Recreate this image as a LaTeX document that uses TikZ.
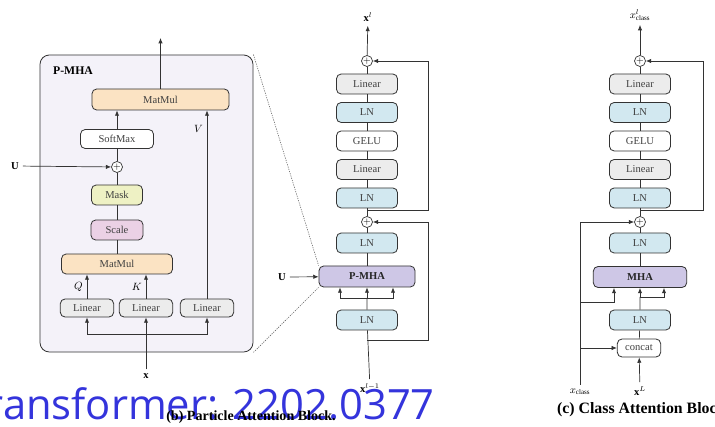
\documentclass[tikz,border=0pt]{standalone}
\usepackage{fontspec}
\setmainfont{Liberation Serif}
\newfontfamily\bannerfont{Open Sans}
\usepackage{amsmath}
\usepackage{xcolor}
\usetikzlibrary{arrows.meta, positioning, calc}

\definecolor{panelbg}{HTML}{F4F2F9}
\definecolor{matmulc}{HTML}{FBE3C3}
\definecolor{maskc}{HTML}{EEF1C4}
\definecolor{scalec}{HTML}{EBD1E5}
\definecolor{linearc}{HTML}{ECECEC}
\definecolor{lnc}{HTML}{D2E8F0}
\definecolor{attnc}{HTML}{CEC7E6}
\definecolor{edgec}{HTML}{333333}
\definecolor{bannerc}{HTML}{3434DC}

\begin{document}
\begin{tikzpicture}[
        x=0.03cm, y=-0.03cm,
        blk/.style={draw=edgec, line width=0.7pt, rounded corners=4pt, minimum height=0.6cm, minimum width=1.83cm, inner sep=1pt, font=\fontsize{9}{10}\selectfont, text=black!75},
        lin/.style={blk, fill=linearc},
        ln/.style={blk, fill=lnc},
        act/.style={blk, fill=white},
        attn/.style={blk, fill=attnc, minimum width=2.88cm, minimum height=0.63cm, font=\fontsize{9}{10}\selectfont\bfseries, text=black!85},
        add/.style={draw=edgec, circle, line width=0.6pt, inner sep=0pt, minimum size=0.33cm, fill=white, font=\footnotesize},
        arrow/.style={-{Latex[length=1.6mm, width=1.3mm]}, line width=0.6pt, draw=edgec},
        wire/.style={line width=0.6pt, draw=edgec},
        lbl/.style={font=\fontsize{9}{10}\selectfont},
        caption/.style={font=\fontsize{12}{14}\selectfont\bfseries}
    ]
        \useasboundingbox (0,0) rectangle (715,427);
        \clip (0,0) rectangle (715,427);
        \fill[white] (0,0) rectangle (715,427);

        % P-MHA detail
        \node[draw=edgec, line width=0.7pt, rounded corners=8pt, fill=panelbg, minimum width=6.39cm, minimum height=8.91cm] (panel) at (146.5,203.5) {};
        \node[font=\fontsize{10}{12}\selectfont\bfseries, anchor=west] (pmhatitle) at (49,71) {P-MHA};

        \node[blk, fill=matmulc, minimum width=4.11cm, minimum height=0.63cm] (mm2) at (160.5,99.5) {MatMul};
        \node[act, minimum width=2.19cm, minimum height=0.57cm] (softmax) at (117,139) {SoftMax};
        \node[add] (plusa) at (117,167) {$+$};
        \node[blk, fill=maskc, minimum width=1.53cm] (mask) at (117,195) {Mask};
        \node[blk, fill=scalec, minimum width=1.56cm] (scale) at (117,230) {Scale};
        \node[blk, fill=matmulc, minimum width=3.33cm] (mm1) at (117,264) {MatMul};

        \node[lin, minimum width=1.6cm, minimum height=0.54cm] (linq) at (87,308) {Linear};
        \node[lin, minimum width=1.6cm, minimum height=0.54cm] (link) at (146,308) {Linear};
        \node[lin, minimum width=1.6cm, minimum height=0.54cm] (linv) at (207,308) {Linear};

        \node[lbl] (ua) at (15,166) {$\mathbf{U}$};
        \node[lbl] (xa) at (146,376) {$\mathbf{x}$};
        \coordinate (outa) at (160.5,38);
        \coordinate (huba) at (146,334);

        \draw[wire] (mm1) -- (scale) -- (mask) -- (plusa) -- (softmax);
        \draw[arrow] (softmax.north) -- (softmax.north |- mm2.south);
        \draw[arrow] (ua) -- (plusa);
        \draw[arrow] (mm2) -- (outa);
        \draw[arrow] (linq) -- (linq |- mm1.south) node[midway, left, lbl] {$Q$};
        \draw[arrow] (link) -- (link |- mm1.south) node[midway, left, lbl] {$K$};
        \draw[arrow] (linv) -- (linv |- mm2.south) node[pos=0.9, left, lbl] {$V$};
        \draw[arrow] (xa) -- (link);
        \draw[arrow] (huba) -| (linq);
        \draw[arrow] (huba) -| (linv);

        % Particle attention block
        \node[add] (plusb2) at (367,61) {$+$};
        \node[lin] (linb2) at (367,84) {Linear};
        \node[ln, below=0.23cm of linb2] (lnb3) {LN};
        \node[act, below=0.23cm of lnb3] (gelub) {GELU};
        \node[lin, below=0.23cm of gelub] (linb1) {Linear};
        \node[ln, below=0.23cm of linb1] (lnb2) {LN};
        \node[add] (plusb1) at (367,222) {$+$};
        \node[ln] (lnb1) at (367,243) {LN};
        \node[attn] (pmha) at (367,276.5) {P-MHA};
        \node[ln] (lnb0) at (367,320) {LN};

        \node[lbl] (xbout) at (368,17) {$\mathbf{x}^{l}$};
        \node[lbl] (xb) at (370,388) {$\mathbf{x}^{l-1}$};
        \node[lbl] (ub) at (282,277) {$\mathbf{U}$};
        \coordinate (splitb2) at (367,210);
        \coordinate (splitb1) at (367,340);
        \coordinate (hubb) at (367,298);

        \draw[wire] (plusb1) -- (lnb2) -- (linb1) -- (gelub) -- (lnb3) -- (linb2) -- (plusb2);
        \draw[arrow] (plusb2) -- (xbout);
        \draw[arrow] (splitb2) -- ++(61,0) |- (plusb2);
        \draw[wire] (pmha) -- (lnb1) -- (plusb1);
        \draw[arrow] (splitb1) -- ++(61,0) |- (plusb1);
        \draw[wire] (xb) -- (lnb0) -- (hubb);
        \draw[arrow] (hubb) -- (pmha);
        \draw[arrow] (hubb) -| ([xshift=-0.81cm]pmha.south);
        \draw[arrow] (hubb) -| ([xshift=0.78cm]pmha.south);
        \draw[arrow] (ub) -- (pmha);

        % zoom lines
        \draw[black!60, line width=0.5pt, dash pattern=on 1pt off 1pt] (panel.north east) -- (pmha.north west);
        \draw[black!60, line width=0.5pt, dash pattern=on 1pt off 1pt] (panel.south east) -- (pmha.south west);

        % Class attention block
        \node[add] (plusc2) at (640,61) {$+$};
        \node[lin] (linc2) at (640,84) {Linear};
        \node[ln, below=0.23cm of linc2] (lnc3) {LN};
        \node[act, below=0.23cm of lnc3] (geluc) {GELU};
        \node[lin, below=0.23cm of geluc] (linc1) {Linear};
        \node[ln, below=0.23cm of linc1] (lnc2) {LN};
        \node[add] (plusc1) at (640,222) {$+$};
        \node[ln] (lnc1) at (640,243) {LN};
        \node[attn, minimum width=2.8cm] (mha) at (640,277) {MHA};
        \node[ln] (lnc0) at (640,320) {LN};
        \node[act, minimum width=1.3cm, minimum height=0.54cm] (concat) at (639,348) {concat};

        \node[lbl] (xcout) at (640,15) {$x^{l}_{\text{class}}$};
        \node[lbl] (xcl) at (640,391) {$\mathbf{x}^{L}$};
        \node[lbl] (xcls) at (580,392) {$x_{\text{class}}$};
        \coordinate (splitc3) at (640,210);
        \coordinate (splitc2) at (580,302);
        \coordinate (splitc1) at (580,348);
        \coordinate (hubc) at (640,297);

        \draw[wire] (plusc1) -- (lnc2) -- (linc1) -- (geluc) -- (lnc3) -- (linc2) -- (plusc2);
        \draw[arrow] (plusc2) -- (xcout);
        \draw[arrow] (splitc3) -- ++(63,0) |- (plusc2);
        \draw[wire] (mha) -- (lnc1) -- (plusc1);
        \draw[arrow] (xcls) |- (plusc1);
        \draw[arrow] (splitc2) -| ([xshift=-0.78cm]mha.south);
        \draw[arrow] (splitc1) -- (concat);
        \draw[arrow] (xcl) -- (concat);
        \draw[wire] (concat) -- (lnc0) -- (hubc);
        \draw[arrow] (hubc) -- (mha);
        \draw[arrow] (hubc) -| ([xshift=0.72cm]mha.south);

        % banner and captions
        \node[font=\bannerfont\fontsize{35.6}{36}\selectfont, text=bannerc, anchor=base east, inner sep=0pt] (banner) at (435,420) {Transformer: 2202.0377};
        \node[caption] (capb) at (251,417) {(b) Particle Attention Block.};
        \node[caption, font=\fontsize{13.5}{15}\selectfont\bfseries, anchor=west] (capc) at (553,410) {(c) Class Attention Block.};
    \end{tikzpicture}
\end{document}
